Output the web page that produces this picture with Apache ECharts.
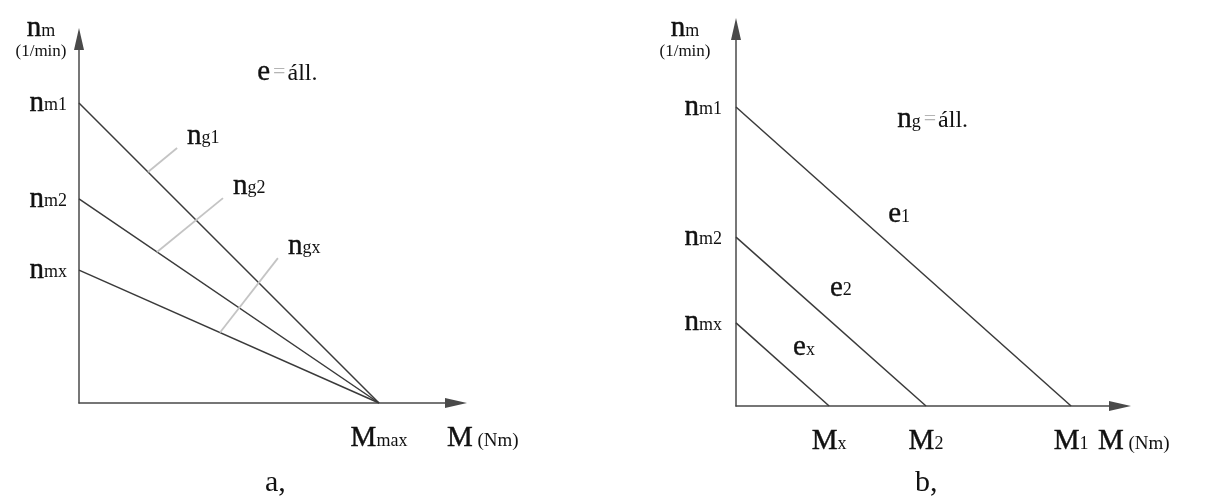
<!DOCTYPE html>
<html>
<head>
<meta charset="utf-8">
<title>Mechanikai jelleggörbék</title>
<script src="https://cdn.jsdelivr.net/npm/echarts@6/dist/echarts.min.js"></script>
<style>
  html, body { margin: 0; padding: 0; background: #ffffff; }
  #chart { width: 1210px; height: 504px; }
</style>
</head>
<body>
<div id="chart"></div>
<script>
// Panel a: constant excitation (e = áll.), the generator speed n_g is varied.
// All characteristics share the stall torque M_max.
const aNoLoadSpeeds = [1.0, 0.68, 0.443];          // n_m1, n_m2, n_mx
const aSpeedTicks = ['m1', 'm2', 'mx'];
const aStallTorque = 1.0;                          // M_max
const aTorqueTick = 'max';
const aCurveNames = ['g1', 'g2', 'gx'];            // n_g1, n_g2, n_gx
const aLeaderFrom = [0.23, 0.26, 0.47];            // torque where each leader leaves its line
const aLeaderTo = [[0.327, 0.85], [0.48, 0.683], [0.663, 0.483]];

// Panel b: constant generator speed (n_g = áll.), the excitation e is varied.
// The characteristics are parallel lines.
const bNoLoadSpeeds = [1.0, 0.565, 0.278];         // n_m1, n_m2, n_mx
const bSpeedTicks = ['m1', 'm2', 'mx'];
const bStallTorques = [1.0, 0.567, 0.278];         // M1, M2, Mx
const bTorqueTicks = ['1', '2', 'x'];
const bCurveNames = ['1', '2', 'x'];               // e1, e2, ex
const bNameAt = [[0.487, 0.64], [0.313, 0.395], [0.203, 0.195]];

const SERIF = '"Liberation Serif", "Times New Roman", serif';
const INK = '#111111';
const LINE = '#3a3a3a';
const AXIS = '#4a4a4a';
const LEADER = '#c4c4c4';

// rich styles for labels drawn by series and axes
const rich = {
  n: { fontFamily: SERIF, fontSize: 29, color: INK, verticalAlign: 'bottom', textBorderColor: INK, textBorderWidth: 0.4 },
  s: { fontFamily: SERIF, fontSize: 18, color: INK, verticalAlign: 'bottom', padding: [0, 0, 3, 0] },
  u: { fontFamily: SERIF, fontSize: 17, color: INK },
  v: { fontFamily: SERIF, fontSize: 19, color: INK, verticalAlign: 'bottom', padding: [0, 0, 2, 0] }
};
// rich styles for free-standing notes (plain zrender text styles)
const noteRich = {
  n: { fontFamily: SERIF, fontSize: 29, fill: INK, verticalAlign: 'bottom', stroke: INK, lineWidth: 0.4 },
  s: { fontFamily: SERIF, fontSize: 18, fill: INK, verticalAlign: 'bottom', padding: [0, 0, 3, 0] },
  q: { fontFamily: SERIF, fontSize: 22, fill: '#b4b4b4', verticalAlign: 'middle', padding: [0, 2, 0, 3] },
  a: { fontFamily: SERIF, fontSize: 24, fill: INK, verticalAlign: 'bottom', padding: [0, 0, 1, 0] }
};
const sym = (b, sub) => `{n|${b}}{s|${sub}}`;
const pick = (values, names, v) => {
  let best = 0;
  values.forEach((x, i) => { if (Math.abs(x - v) < Math.abs(values[best] - v)) best = i; });
  return names[best];
};

function axisLine() {
  return {
    show: true,
    onZero: false,
    symbol: ['none', 'triangle'],
    symbolSize: [10, 22],
    lineStyle: { color: AXIS, width: 1.5 }
  };
}

function torqueAxis(gridIndex, max, ticks, labelFn, nameGap) {
  return {
    gridIndex, type: 'value', min: 0, max,
    axisLine: axisLine(),
    axisTick: { show: false },
    splitLine: { show: false },
    axisLabel: { customValues: ticks, formatter: labelFn, margin: 21, rich },
    name: '{n|M}{v| (Nm)}',
    nameLocation: 'end',
    nameGap,
    nameTextStyle: { align: 'left', verticalAlign: 'top', padding: [21, 0, 0, 0], rich }
  };
}

function speedAxis(gridIndex, max, ticks, labelFn, margin, nameGap, shift) {
  return {
    gridIndex, type: 'value', min: 0, max,
    axisLine: axisLine(),
    axisTick: { show: false },
    splitLine: { show: false },
    axisLabel: { customValues: ticks, formatter: labelFn, margin, rich },
    name: '{n|n}{s|m}\n{u|(1/min)}',
    nameLocation: 'end',
    nameGap,
    nameTextStyle: { align: 'center', verticalAlign: 'bottom', padding: [0, shift, 0, 0], rich }
  };
}

const series = [];

// panel a: straight characteristics from n_m to M_max
aNoLoadSpeeds.forEach((n0, i) => {
  series.push({
    type: 'line', xAxisIndex: 0, yAxisIndex: 0, silent: true,
    showSymbol: false, symbol: 'none',
    lineStyle: { color: LINE, width: 1.5 },
    data: [[0, n0], [aStallTorque, 0]]
  });
  const m0 = aLeaderFrom[i];
  const start = [m0, n0 * (1 - m0 / aStallTorque)];
  series.push({
    type: 'line', xAxisIndex: 0, yAxisIndex: 0, silent: true,
    symbol: 'circle', symbolSize: 0, showSymbol: true,
    lineStyle: { color: LEADER, width: 1.8 },
    label: { show: false },
    data: [
      { value: start },
      { value: aLeaderTo[i], label: { show: true, position: 'right', distance: 10, offset: [0, -12], color: INK, formatter: sym('n', aCurveNames[i]), rich } }
    ]
  });
});

// panel b: parallel characteristics
bNoLoadSpeeds.forEach((n0, i) => {
  series.push({
    type: 'line', xAxisIndex: 1, yAxisIndex: 1, silent: true,
    showSymbol: false, symbol: 'none',
    lineStyle: { color: LINE, width: 1.5 },
    data: [[0, n0], [bStallTorques[i], 0]]
  });
});
series.push({
  type: 'scatter', xAxisIndex: 1, yAxisIndex: 1, silent: true,
  symbolSize: 0,
  itemStyle: { opacity: 1 },
  label: { show: true, position: 'inside', color: INK, formatter: p => sym('e', bCurveNames[p.dataIndex]), rich },
  data: bNameAt
});

const option = {
  backgroundColor: '#ffffff',
  animation: false,
  grid: [
    { left: 79, top: 39, width: 377, height: 364, outerBoundsMode: 'none' },
    { left: 736, top: 29, width: 384, height: 377, outerBoundsMode: 'none' }
  ],
  xAxis: [
    torqueAxis(0, 1.2567, [aStallTorque], () => sym('M', aTorqueTick), -9),
    torqueAxis(1, 1.146, bStallTorques, v => sym('M', pick(bStallTorques, bTorqueTicks, v)), -22)
  ],
  yAxis: [
    speedAxis(0, 1.2133, aNoLoadSpeeds, v => sym('n', pick(aNoLoadSpeeds, aSpeedTicks, v)), 12, -21, 76),
    speedAxis(1, 1.261, bNoLoadSpeeds, v => sym('n', pick(bNoLoadSpeeds, bSpeedTicks, v)), 14, -31, 102)
  ],
  graphic: [
    { type: 'text', left: 257, top: 58, style: { text: '{n|e}{q|=}{a|áll.}', rich: noteRich } },
    { type: 'text', left: 897, top: 105, style: { text: '{n|n}{s|g}{q|=}{a|áll.}', rich: noteRich } },
    { type: 'text', left: 265, top: 468, style: { text: 'a,', font: '30px ' + SERIF, fill: INK } },
    { type: 'text', left: 915, top: 468, style: { text: 'b,', font: '30px ' + SERIF, fill: INK } }
  ],
  series
};

const chart = echarts.init(document.getElementById('chart'), null, { renderer: 'canvas' });
chart.setOption(option);
</script>
</body>
</html>
